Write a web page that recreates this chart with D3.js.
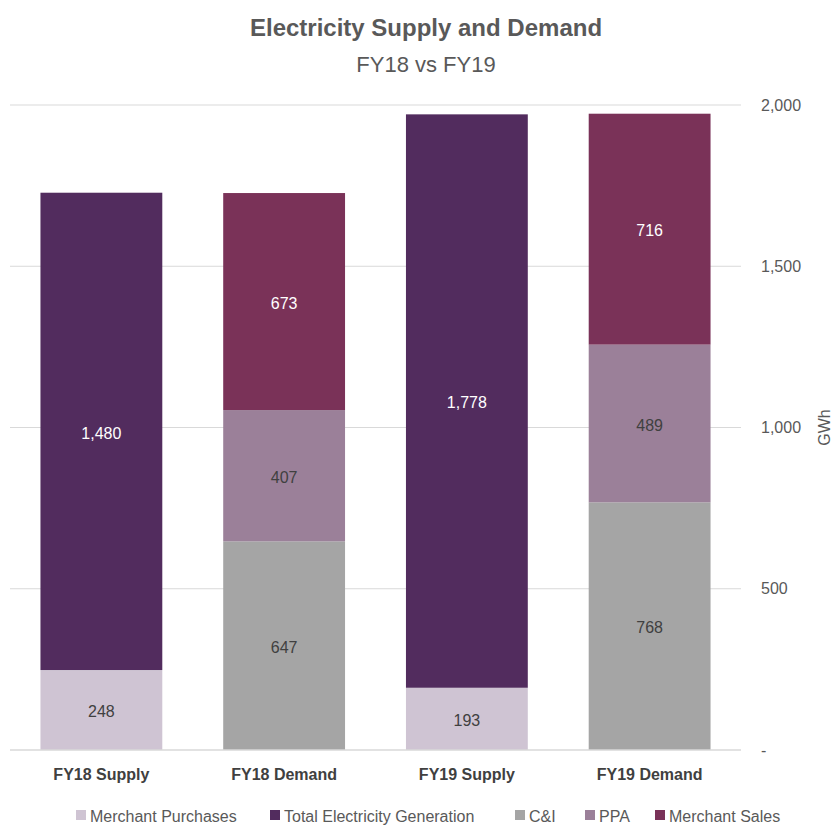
<!DOCTYPE html>
<html><head><meta charset="utf-8">
<script src="https://cdn.jsdelivr.net/npm/d3@7"></script>
<style>body{margin:0;background:#fff}svg{display:block}</style>
</head><body>
<svg id="c" width="838" height="825"></svg>
<script>
const categories = ["FY18 Supply", "FY18 Demand", "FY19 Supply", "FY19 Demand"];
const seriesNames = ["Merchant Purchases", "Total Electricity Generation", "C&I", "PPA", "Merchant Sales"];
const merchantPurchases = [248, 0, 193, 0];
const totalGeneration = [1480, 0, 1778, 0];
const cni = [0, 647, 0, 768];
const ppa = [0, 407, 0, 489];
const merchantSales = [0, 673, 0, 716];
const yTicks = [0, 500, 1000, 1500, 2000];
const colors = ["#cfc4d3", "#522c5e", "#a5a5a5", "#9b8099", "#7a3258"];
const labelColors = ["#404040", "#ffffff", "#404040", "#404040", "#ffffff"];

(function () {
const seriesValues = [merchantPurchases, totalGeneration, cni, ppa, merchantSales];
const rows = categories.map((c, i) => {
  const o = {cat: c};
  seriesNames.forEach((s, j) => o[s] = seriesValues[j][i]);
  return o;
});
const stacked = d3.stack().keys(seriesNames)(rows);

const font = "'Liberation Sans', sans-serif";
const svg = d3.select("#c");
const mLeft = 10, mRight = 741, mTop = 105, mBottom = 750;
const x = d3.scaleBand().domain(categories).range([mLeft, mRight]).paddingInner(1/3).paddingOuter(1/6);
const y = d3.scaleLinear().domain([0, 2000]).range([mBottom, mTop]);

svg.append("g").selectAll("line").data(yTicks.slice(1)).join("line")
  .attr("x1", mLeft).attr("x2", mRight)
  .attr("y1", d => y(d)).attr("y2", d => y(d))
  .attr("stroke", "#d9d9d9").attr("stroke-width", 1);

const g = svg.append("g");
stacked.forEach((layer, j) => {
  g.append("g").selectAll("rect").data(layer.filter(d => d[1] - d[0] > 0)).join("rect")
    .attr("x", d => x(d.data.cat)).attr("width", x.bandwidth())
    .attr("y", d => y(d[1])).attr("height", d => y(d[0]) - y(d[1]))
    .attr("fill", colors[j]);
  g.append("g").selectAll("text").data(layer.filter(d => d[1] - d[0] > 0)).join("text")
    .attr("x", d => x(d.data.cat) + x.bandwidth() / 2)
    .attr("y", d => (y(d[0]) + y(d[1])) / 2)
    .attr("dy", "0.45em").attr("text-anchor", "middle")
    .attr("font-family", font).attr("font-size", 16)
    .attr("fill", labelColors[j])
    .text(d => d3.format(",")(d[1] - d[0]));
});

svg.append("line").attr("x1", mLeft).attr("x2", mRight).attr("y1", y(0)).attr("y2", y(0))
  .attr("stroke", "#d9d9d9").attr("stroke-width", 1.5);

const yAxis = d3.axisRight(y).tickValues(yTicks).tickSize(0).tickPadding(20)
  .tickFormat(d => d === 0 ? "-" : d3.format(",")(d));
const ya = svg.append("g").attr("transform", `translate(${mRight},0)`).call(yAxis);
ya.select(".domain").remove();
ya.selectAll("text").attr("font-family", font).attr("font-size", 16).attr("fill", "#595959");

svg.append("text").attr("transform", `translate(830,${(mTop + mBottom) / 2}) rotate(-90)`)
  .attr("text-anchor", "middle").attr("font-family", font).attr("font-size", 16)
  .attr("fill", "#595959").text("GWh");

const xAxis = d3.axisBottom(x).tickSize(0).tickPadding(19);
const xa = svg.append("g").attr("transform", `translate(0,${mBottom})`).call(xAxis);
xa.select(".domain").remove();
xa.selectAll("text").attr("font-family", font).attr("font-size", 16).attr("font-weight", "bold").attr("fill", "#404040");

svg.append("text").attr("x", 426).attr("y", 36).attr("text-anchor", "middle")
  .attr("font-family", font).attr("font-size", 24).attr("font-weight", "bold").attr("fill", "#595959")
  .text("Electricity Supply and Demand");
svg.append("text").attr("x", 426).attr("y", 72).attr("text-anchor", "middle")
  .attr("font-family", font).attr("font-size", 22).attr("fill", "#595959")
  .text("FY18 vs FY19");

const legendX = [76, 270, 515, 585, 655];
const lg = svg.append("g").selectAll("g").data(seriesNames).join("g")
  .attr("transform", (d, i) => `translate(${legendX[i]},816)`);
lg.append("rect").attr("x", 0).attr("y", -6).attr("width", 10).attr("height", 10)
  .attr("fill", (d, i) => colors[i]);
lg.append("text").attr("x", 14).attr("y", 0).attr("dy", "0.35em")
  .attr("font-family", font).attr("font-size", 16).attr("fill", "#595959").text(d => d);
})();
</script>
</body></html>
